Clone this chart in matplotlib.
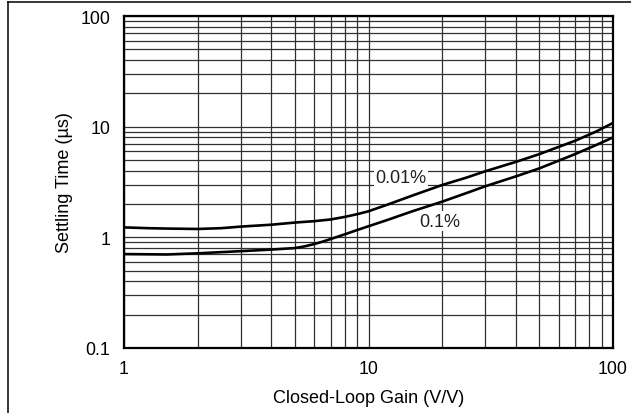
import matplotlib
matplotlib.use("Agg")
import matplotlib.pyplot as plt
from matplotlib.lines import Line2D
from matplotlib.ticker import LogLocator, NullFormatter, FixedLocator, FixedFormatter

plt.rcParams['font.family'] = ['Liberation Sans', 'DejaVu Sans']

# values
gain_001 = [1, 1.25, 1.5, 2, 2.5, 3, 4, 5, 6, 7, 8, 9, 10, 12, 15, 20, 25, 30, 40, 50, 70, 85, 100]
settle_001 = [1.23, 1.21, 1.20, 1.19, 1.21, 1.25, 1.30, 1.36, 1.40, 1.45, 1.53, 1.62, 1.72,
              1.98, 2.37, 2.97, 3.45, 3.95, 4.8, 5.65, 7.46, 9.0, 10.8]
gain_01 = [1, 1.5, 2, 3, 4, 5, 5.5, 6, 6.5, 7, 7.5, 8, 9, 10, 12, 15, 20, 25, 30, 40, 50, 70, 85, 100]
settle_01 = [0.706, 0.70, 0.717, 0.75, 0.775, 0.80, 0.83, 0.87, 0.915, 0.965, 1.015, 1.065, 1.165, 1.26,
             1.44, 1.71, 2.1, 2.5, 2.89, 3.55, 4.2, 5.65, 6.8, 8.0]

x_ticks = [1, 10, 100]
x_labels = ["1", "10", "100"]
y_ticks = [0.1, 1, 10, 100]
y_labels = ["0.1", "1", "10", "100"]

fig = plt.figure(figsize=(6.31, 4.14), dpi=100)
ax = fig.add_axes([124 / 631, 1 - 349 / 414, 489 / 631, 332 / 414])

ax.set_xscale("log"); ax.set_yscale("log")
ax.set_xlim(1, 100); ax.set_ylim(0.1, 100)

ax.xaxis.set_major_locator(FixedLocator(x_ticks))
ax.xaxis.set_major_formatter(FixedFormatter(x_labels))
ax.yaxis.set_major_locator(FixedLocator(y_ticks))
ax.yaxis.set_major_formatter(FixedFormatter(y_labels))
ax.xaxis.set_minor_locator(LogLocator(base=10, subs=range(2, 10)))
ax.yaxis.set_minor_locator(LogLocator(base=10, subs=range(2, 10)))
ax.xaxis.set_minor_formatter(NullFormatter())
ax.yaxis.set_minor_formatter(NullFormatter())

ax.grid(True, which="both", color="#303030", lw=0.9)
ax.tick_params(which="both", length=0)
ax.tick_params(axis="x", pad=9, labelsize=12.8)
ax.tick_params(axis="y", pad=10, labelsize=12.8)
for s in ax.spines.values():
    s.set_linewidth(1.6); s.set_color("black")

ax.plot(gain_001, settle_001, color="black", lw=1.9, zorder=3, solid_joinstyle="round")
ax.plot(gain_01, settle_01, color="black", lw=1.9, zorder=3, solid_joinstyle="round")

box = dict(facecolor="white", edgecolor="none", pad=1.0)
ax.text(13.6, 3.5, "0.01%", fontsize=13, ha="center", va="center", color="#222", bbox=box, zorder=4)
ax.text(19.5, 1.40, "0.1%", fontsize=13, ha="center", va="center", color="#222", bbox=box, zorder=4)

ax.set_xlabel("Closed-Loop Gain (V/V)", fontsize=13, labelpad=8)
ax.set_ylabel("Settling Time (\u00b5s)", fontsize=13, labelpad=5)

# outer frame (only top and left edges fall inside the picture)
fig.add_artist(Line2D([8 / 631, 1.01], [1 - 3 / 414, 1 - 3 / 414], transform=fig.transFigure, color="black", lw=1.1))
fig.add_artist(Line2D([8 / 631, 8 / 631], [1 - 3 / 414, -0.01], transform=fig.transFigure, color="black", lw=1.1))

fig.savefig("out.png", dpi=100, facecolor="white")
